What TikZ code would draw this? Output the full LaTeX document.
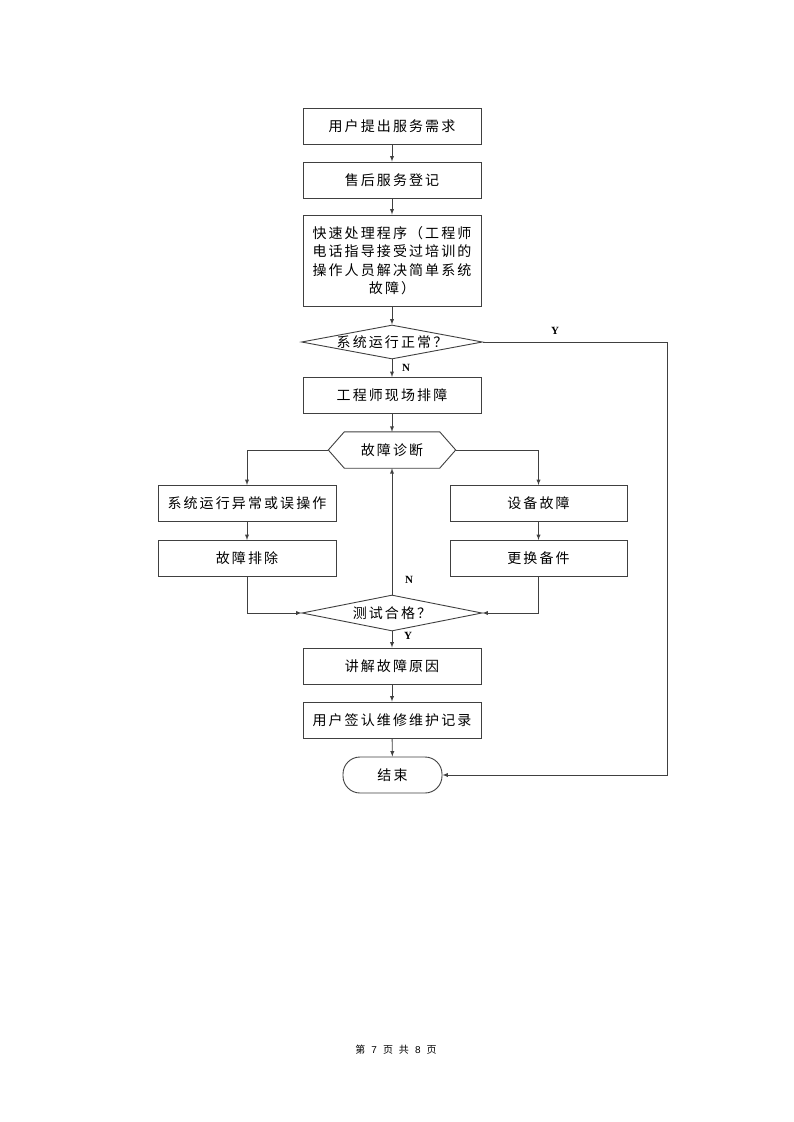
\documentclass[tikz,border=0pt]{standalone}
\usepackage{fontspec}
\setmainfont{Liberation Serif}
\newfontfamily\cjk[LetterSpace=15]{Noto Sans CJK SC}
\newfontfamily\pagefont{Noto Sans CJK SC}
\newfontfamily\digitfont{Liberation Sans}
\usetikzlibrary{arrows}
\usetikzlibrary{shapes.geometric}

\tikzset{
  proc/.style={draw=black!75, line width=0.9pt, fill=white, minimum width=178pt,
    minimum height=36pt, inner sep=0pt, font=\cjk\fontsize{14pt}{18.5pt}\selectfont, align=center},
  decide/.style={draw=black!75, line width=0.9pt, diamond, aspect=5.3, inner sep=0pt,
    minimum width=181pt, minimum height=34pt, font=\cjk\fontsize{14pt}{18pt}\selectfont},
  flow/.style={draw=black!75, line width=0.9pt, -latex},
  lbl/.style={font=\bfseries\fontsize{11pt}{13pt}\selectfont, inner sep=0pt}
}

\begin{document}
\begin{tikzpicture}[x=1pt, y=-1pt]
\useasboundingbox (0,0) rectangle (793,1122);

\node[proc] (need) at (392,126) {用户提出服务需求};
\node[proc] (reg) at (392,180) {售后服务登记};
\node[proc, minimum height=91pt] (quick) at (392,260.5) {快速处理程序（工程师\\电话指导接受过培训的\\操作人员解决简单系统\\故障）};
\node[decide] (check) at (392,342) {系统运行正常？};
\node[proc] (onsite) at (392,395.5) {工程师现场排障};

% hexagon for diagnosis
\node[minimum width=127pt, minimum height=36pt, inner sep=0pt,
  font=\cjk\fontsize{14pt}{18pt}\selectfont] (diag) at (392,450) {故障诊断};
\draw[draw=black!75, line width=0.9pt] (diag.west) -- ([xshift=16pt]diag.north west)
  -- ([xshift=-16pt]diag.north east) -- (diag.east) -- ([xshift=-16pt]diag.south east)
  -- ([xshift=16pt]diag.south west) -- cycle;

\node[proc] (sysbox) at (247,503.5) {系统运行异常或误操作};
\node[proc] (fixbox) at (247,558.5) {故障排除};
\node[proc, minimum width=177pt] (devbox) at (538.5,503.5) {设备故障};
\node[proc, minimum width=177pt] (repbox) at (538.5,558.5) {更换备件};
\node[decide, aspect=5, minimum width=180pt, minimum height=36pt] (test) at (392,613) {测试合格？};
\node[proc] (explain) at (392,666) {讲解故障原因};
\node[proc] (sign) at (392,720) {用户签认维修维护记录};
\node[proc, minimum width=99pt, rounded corners=17pt] (term) at (392.5,775) {结束};

\draw[flow] (need) -- (reg);
\draw[flow] (reg) -- (quick);
\draw[flow] (quick) -- (check);
\draw[flow] (check) -- (onsite);
\draw[flow] (onsite) -- (diag);
\draw[flow] (diag.west) -| (sysbox.north);
\draw[flow] (diag.east) -| (devbox.north);
\draw[flow] (sysbox) -- (fixbox);
\draw[flow] (devbox) -- (repbox);
\draw[flow] (fixbox.south) |- (test.west);
\draw[flow] (repbox.south) |- (test.east);
\draw[flow] (test.north) -- (diag.south);
\draw[flow] (test) -- (explain);
\draw[flow] (explain) -- (sign);
\draw[flow] (sign) -- (term);
\coordinate (ycorner) at (667,342);
\draw[flow] (check.east) -- (ycorner) |- (term.east);

\node[lbl] (ylab1) at (555,331) {Y};
\node[lbl] (nlab1) at (406,368) {N};
\node[lbl] (nlab2) at (409,580) {N};
\node[lbl] (ylab2) at (408,636) {Y};

\node[font=\pagefont\fontsize{10pt}{12pt}\selectfont] (page) at (396,1050)
  {第\hspace{6pt}{\digitfont 7}\hspace{6pt}页\hspace{6pt}共\hspace{6pt}{\digitfont 8}\hspace{6pt}页};
\end{tikzpicture}
\end{document}
